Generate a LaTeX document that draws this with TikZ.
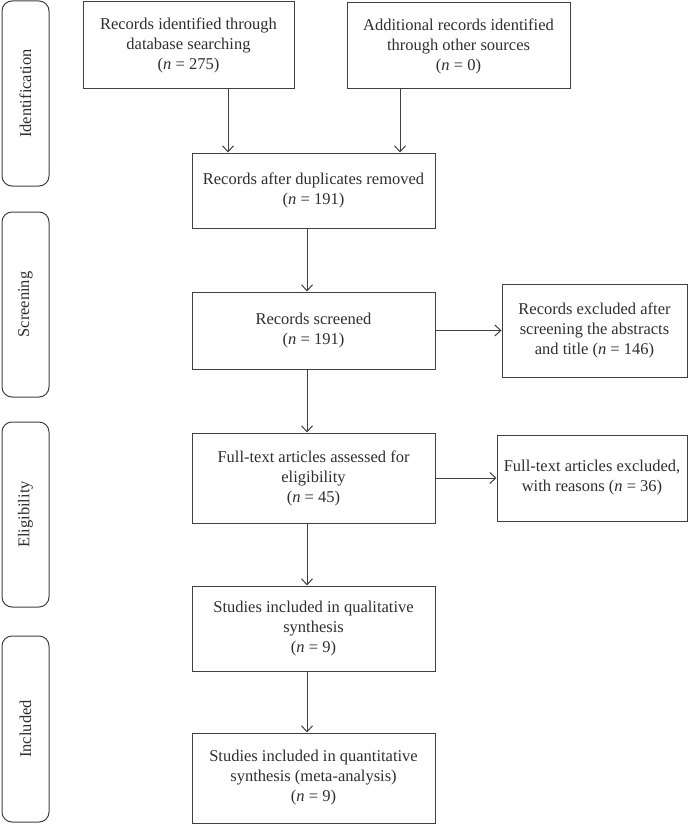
\documentclass[tikz,border=0pt]{standalone}
\usepackage{fontspec}
\setmainfont{Liberation Serif}
\usetikzlibrary{arrows.meta}
\definecolor{linegray}{HTML}{404040}
\definecolor{textgray}{HTML}{2E2E2E}
\tikzset{
  box/.style={draw=linegray, line width=1pt, text=textgray, align=center,
    inner sep=0pt, font=\fontsize{16.5}{20}\selectfont},
  stage/.style={draw=linegray, line width=1pt, text=textgray, rounded corners=10pt,
    rotate=90, minimum height=47pt, inner sep=0pt, font=\fontsize{16.5}{20}\selectfont},
  arr/.style={draw=linegray, line width=1pt, -{Straight Barb[length=6pt,width=11pt]}}
}
\begin{document}
\begin{tikzpicture}[x=1pt,y=-1pt]
\useasboundingbox (0,0) rectangle (688,824);
\foreach \y/\h/\name/\lab in {93.5/185/ident/Identification,
  304.5/185/screen/Screening, 514.5/185/elig/Eligibility,
  729/186/incl/Included} % edit here for the stages
\node[stage, minimum width=\h pt] (\name) at (25.5,\y) {\lab};
% boxes of the flow
\node[box, minimum width=211pt, minimum height=87pt] (db) at (188.5,45.5)
  {Records identified through\\ database searching\\ (\textit{n} = 275)};
\node[box, minimum width=223pt, minimum height=86pt] (other) at (458.5,46)
  {Additional records identified\\ through other sources\\ (\textit{n} = 0)};
\node[box, minimum width=243pt, minimum height=75pt] (dup) at (313.5,190.5)
  {Records after duplicates removed\\ (\textit{n} = 191)};
\node[box, minimum width=243pt, minimum height=77pt] (screened) at (313.5,330.5)
  {Records screened\\ (\textit{n} = 191)};
\node[box, minimum width=185pt, minimum height=93pt] (excl) at (594.5,330.5)
  {Records excluded after\\ screening the abstracts\\ and title (\textit{n} = 146)};
\node[box, minimum width=243pt, minimum height=90pt] (full) at (313.5,478)
  {Full-text articles assessed for\\ eligibility\\ (\textit{n} = 45)};
\node[box, minimum width=190pt, minimum height=86pt] (fullexcl) at (592,478)
  {Full-text articles excluded,\\ with reasons (\textit{n} = 36)};
\node[box, minimum width=243pt, minimum height=85pt] (qual) at (313.5,628.5)
  {Studies included in qualitative\\ synthesis\\ (\textit{n} = 9)};
\node[box, minimum width=243pt, minimum height=90pt] (quant) at (313.5,778)
  {Studies included in quantitative\\ synthesis (meta-analysis)\\ (\textit{n} = 9)};
% arrows
\draw[arr] ([xshift=39.5pt]db.south) -- ([xshift=39.5pt]db.south |- dup.north);
\draw[arr] ([xshift=-58.5pt]other.south) -- ([xshift=-58.5pt]other.south |- dup.north);
\foreach \a/\b in {dup/screened, screened/full, full/qual, qual/quant} % edit here for the chain
\draw[arr] ([xshift=-6.5pt]\a.south) -- ([xshift=-6.5pt]\b.north);
\draw[arr] (screened.east) -- (excl.west);
\draw[arr] (full.east) -- (fullexcl.west);
\end{tikzpicture}
\end{document}
